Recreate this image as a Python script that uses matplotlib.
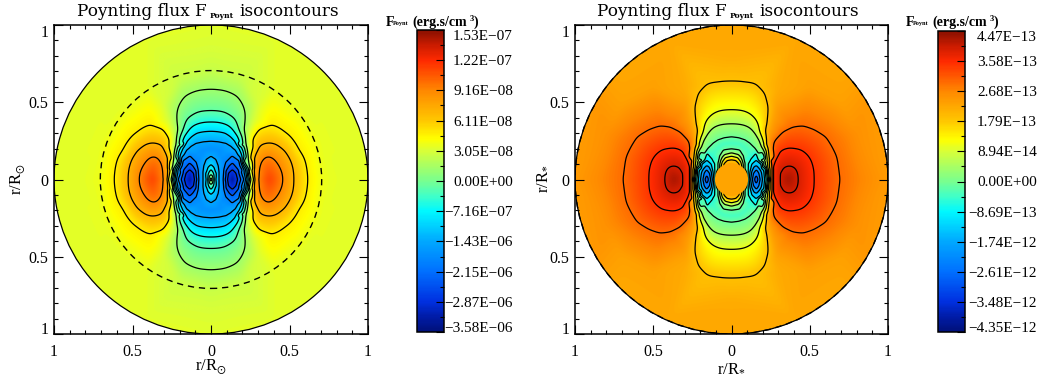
import numpy as np
import matplotlib
matplotlib.use('Agg')
import matplotlib.pyplot as plt
from matplotlib.colors import LinearSegmentedColormap
from matplotlib.patches import Circle
from matplotlib.ticker import MultipleLocator
from matplotlib.tri import Triangulation, LinearTriInterpolator

plt.rcParams['font.family'] = ['Liberation Serif', 'DejaVu Serif']
plt.rcParams['mathtext.fontset'] = 'custom'
plt.rcParams['mathtext.rm'] = 'Liberation Serif'
plt.rcParams['mathtext.bf'] = 'Liberation Serif:bold'
plt.rcParams['mathtext.fallback'] = 'stix'

W, H = 1043, 379

# colorbar tick labels, bottom to top (the scale is not linear across zero)
labels_left = ['\u22123.58E\u221206', '\u22122.87E\u221206', '\u22122.15E\u221206', '\u22121.43E\u221206',
               '\u22127.16E\u221207', '0.00E+00', '3.05E\u221208', '6.11E\u221208', '9.16E\u221208',
               '1.22E\u221207', '1.53E\u221207']
labels_right = ['\u22124.35E\u221212', '\u22123.48E\u221212', '\u22122.61E\u221212', '\u22121.74E\u221212',
                '\u22128.69E\u221213', '0.00E+00', '8.94E\u221214', '1.79E\u221213', '2.68E\u221213',
                '3.58E\u221213', '4.47E\u221213']

# field read off the picture as points (x, y) on each isocontour, first quadrant only
# field values are colorbar tick positions: 0 = bottom tick, 10 = top tick
l_12 = [(.104, 0), (.11, .04), (.136, .065), (.16, .04), (.17, 0)]
l_18 = [(.09, 0), (.095, .055), (.136, .107), (.175, .06), (.19, 0)]
l_24 = [(.079, 0), (.083, .06), (.095, .11), (.136, .152), (.18, .12), (.2, .06), (.21, 0)]
l_30 = [(0, .248), (.05, .244), (.1, .233), (.13, .215), (.153, .194), (.172, .16), (.189, .119), (.212, .043), (.22, 0),
        (.05, 0), (.05, .05), (.045, .09), (.03, .13), (0, .15)]
l_36 = [(0, .313), (.045, .31), (.089, .302), (.125, .277), (.153, .248), (.177, .205), (.195, .162), (.221, .065), (.23, 0),
        (.03, 0), (.028, .05), (.018, .08), (0, .097)]
l_42 = [(0, .371), (.04, .37), (.079, .362), (.115, .347), (.142, .324), (.165, .29), (.185, .248), (.21, .151),
        (.232, .05), (.238, 0), (.02, 0), (.017, .035), (0, .066)]
l_48 = [(0, .442), (.045, .44), (.089, .431), (.125, .41), (.153, .388), (.165, .36), (.174, .324), (.185, .227),
        (.21, .119), (.235, .05), (.245, 0), (.014, 0), (.01, .025), (0, .041)]
l_54 = [(0, .583), (.045, .58), (.089, .574), (.125, .56), (.163, .54), (.19, .51), (.206, .477), (.219, .41), (.215, .36),
        (.21, .319), (.225, .22), (.24, .14), (.25, .07), (.255, 0), (.008, 0), (.005, .01), (0, .017)]
l_66 = [(.272, 0), (.26, .06), (.25, .14), (.257, .248), (.293, .313), (.32, .335), (.378, .35), (.43, .33), (.495, .28),
        (.53, .235), (.558, .183), (.585, .14), (.6, .097), (.608, .05), (.611, 0)]
l_73 = [(.278, 0), (.275, .07), (.272, .14), (.304, .216), (.34, .232), (.378, .237), (.42, .225), (.473, .183),
        (.5, .14), (.516, .097), (.525, .05), (.527, 0)]
l_80 = [(.30, 0), (.304, .075), (.315, .115), (.335, .14), (.355, .15), (.378, .151), (.41, .125), (.442, .075), (.455, .04), (.459, 0)]
# extrema, valleys and background of the left panel: x, y, value
extra_left = [(0, 0, 5.8), (.136, 0, .4), (.136, .03, .7), (.37, 0, 8.8), (.37, .07, 8.5),
              (0, .2, 2.6), (.05, .19, 2.6), (.09, .17, 2.7), (.065, 0, 2.7), (.065, .08, 2.7), (.06, .15, 2.65),
              (.262, 0, 6.0), (.245, .14, 6.0), (.24, .22, 5.9), (.235, .3, 5.9), (.27, .38, 6.0), (.3, .5, 6.0),
              (.72, 0, 6.2), (.85, 0, 6.1), (1, 0, 6.1), (.7, .25, 6.15), (.6, .45, 6.1), (.4, .6, 6.1),
              (.2, .66, 5.85), (0, .72, 5.85), (0, .85, 6.0), (0, 1, 6.1), (.4, .9, 6.1), (.7, .7, 6.1), (1, 1, 6.1)]
dashed_left = 0.705

r_19 = [(.148, 0), (.159, .03), (.168, 0)]
r_25 = [(.133, 0), (.14, .04), (.159, .065), (.175, .04), (.183, 0)]
r_31 = [(.122, 0), (.128, .05), (.159, .09), (.185, .06), (.198, 0)]
r_37 = [(.113, 0), (.118, .05), (.13, .10), (.159, .126), (.19, .1), (.208, .05), (.212, 0)]
r_43 = [(.104, 0), (.107, .05), (.125, .13), (.159, .17), (.2, .14), (.218, .07), (.222, 0)]
r_49 = [(0, .276), (.045, .27), (.089, .255), (.118, .235), (.142, .211), (.168, .17), (.185, .125), (.205, .09), (.224, .05), (.23, 0),
        (0, .197), (.05, .19), (.075, .15), (.085, .105), (.085, .068)]
r_55 = [(0, .362), (.045, .36), (.089, .352), (.125, .335), (.153, .309), (.178, .262), (.195, .211), (.223, .082), (.238, 0),
        (0, .172), (.045, .16), (.068, .125), (.075, .08)]
r_62 = [(0, .449), (.045, .447), (.089, .438), (.125, .42), (.153, .395), (.168, .365), (.178, .33), (.21, .233), (.227, .125), (.246, 0),
        (0, .15), (.04, .14), (.058, .115), (.065, .085)]
r_71 = [(0, .632), (.06, .63), (.121, .621), (.165, .6), (.195, .578), (.22, .53), (.234, .481), (.237, .44), (.231, .395), (.212, .309),
        (.219, .233), (.242, .125), (.25, 0), (0, .13), (.03, .125), (.05, .105), (.055, .09)]
r_83 = [(.69, 0), (.68, .08), (.67, .147), (.64, .21), (.6, .276), (.53, .32), (.452, .347), (.39, .34), (.325, .309), (.29, .275),
        (.257, .222), (.25, .125), (.258, 0)]
r_89 = [(.527, 0), (.525, .06), (.51, .12), (.485, .16), (.45, .19), (.41, .2), (.357, .205), (.315, .19), (.29, .16), (.275, .12), (.265, .08), (.265, 0)]
r_94 = [(.425, 0), (.422, .04), (.41, .071), (.385, .09), (.357, .099), (.33, .095), (.314, .082), (.31, .045), (.31, 0)]
extra_right = [(0, 0, 7.5), (.05, .05, 7.5), (0, .09, 7.5), (.159, 0, 1.3), (.365, 0, 9.8),
               (0, .235, 4.55), (.05, .23, 4.55), (.1, .19, 4.55), (.09, .13, 4.5), (.12, .16, 4.45),
               (.24, .22, 7.7), (.23, .3, 7.5), (.26, .38, 7.6), (.28, .5, 7.55),
               (.85, 0, 7.95), (1, 0, 7.7), (.8, .3, 7.85), (.7, .5, 7.6), (.5, .6, 7.6), (.3, .6, 7.45),
               (0, .8, 7.45), (0, 1, 7.5), (.4, .9, 7.5), (.7, .7, 7.5), (1, 1, 7.5)]
hole_right = 0.106
hole_level = 7.55
dashed_right = 1.0

iso_left = [(1.2, l_12), (1.8, l_18), (2.4, l_24), (3.0, l_30), (3.6, l_36), (4.2, l_42), (4.8, l_48),
            (5.4, l_54), (6.6, l_66), (7.3, l_73), (8.0, l_80)]
iso_right = [(1.9, r_19), (2.5, r_25), (3.1, r_31), (3.7, r_37), (4.3, r_43), (4.9, r_49), (5.5, r_55),
             (6.2, r_62), (7.1, r_71), (8.3, r_83), (8.9, r_89), (9.4, r_94)]

cmap = LinearSegmentedColormap.from_list('idl', [
    (0.00, '#00107a'), (0.05, '#001ca8'), (0.10, '#0030e0'), (0.20, '#0070ff'),
    (0.30, '#00a8ff'), (0.40, '#00f8ff'), (0.45, '#40ffc8'), (0.50, '#78ff90'),
    (0.60, '#d8ff38'), (0.64, '#ffff00'), (0.70, '#ffc800'), (0.80, '#ff8800'),
    (0.90, '#ff2a00'), (0.95, '#cc1c00'), (1.00, '#8a1000')])


def px_axes(left, top, right, bottom):
    return fig.add_axes([left / W, 1 - bottom / H, (right - left) / W, (bottom - top) / H])


def soften(z, n):
    # small box filter, takes the corners off the triangles
    kernel = np.ones(2 * n + 1) / (2 * n + 1)
    for _ in range(2):
        for axis in (0, 1):
            z = np.apply_along_axis(lambda v: np.convolve(np.pad(v, n, mode='edge'), kernel, mode='valid'), axis, z)
    return z


def smooth_field(iso, extra):
    # mirror the quadrant points to the whole disc and let matplotlib interpolate them
    pts = {}
    rows = [(x, y, lev) for lev, line in iso for x, y in line] + extra
    for x, y, z in rows:
        for sx in (-1, 1):
            for sy in (-1, 1):
                pts[(round(sx * x, 4), round(sy * y, 4))] = z
    xy = np.array(list(pts.keys()))
    z = np.array(list(pts.values()))
    tri = Triangulation(xy[:, 0], xy[:, 1])
    interp = LinearTriInterpolator(tri, z)
    xi = np.linspace(-1, 1, 901)
    xg, yg = np.meshgrid(xi, xi)
    zi = np.ma.filled(interp(xg, yg), z[-1])
    # the packed lines near the centre keep their spacing, the wide ones get rounder
    w = np.clip((np.hypot(xg / .28, yg / .27) - 1) / .25, 0, 1)
    return xi, w * soften(zi, 9) + (1 - w) * soften(zi, 2)


def draw_panel(box, iso, extra, dashed, ylab, xlab):
    ax = px_axes(*box)
    xi, zi = smooth_field(iso, extra)
    im = ax.imshow(zi, extent=[-1, 1, -1, 1], origin='lower', cmap=cmap, vmin=0, vmax=10, aspect='auto')
    disc = Circle((0, 0), 1, transform=ax.transData)
    im.set_clip_path(disc)
    cs = ax.contour(xi, xi, zi, levels=[lev for lev, line in iso], colors='k', linewidths=0.9)
    cs.set_clip_path(disc)
    ax.add_patch(Circle((0, 0), 1, fill=False, ec='k', lw=0.9, zorder=5))
    ax.add_patch(Circle((0, 0), dashed, fill=False, ec='k', lw=1.0, ls=(0, (4.5, 3.5)), zorder=5))
    ax.set_xlim(-1, 1)
    ax.set_ylim(-1, 1)
    ax.set_xticks([-1, -.5, 0, .5, 1], ['1', '0.5', '0', '0.5', '1'])
    ax.set_yticks([-1, -.5, 0, .5, 1], ['1', '0.5', '0', '0.5', '1'])
    ax.xaxis.set_minor_locator(MultipleLocator(.1))
    ax.yaxis.set_minor_locator(MultipleLocator(.1))
    ax.tick_params(which='both', direction='in', top=True, right=True, width=0.8, labelsize=11.5)
    ax.tick_params(which='major', length=6.5)
    ax.tick_params(which='minor', length=3)
    ax.tick_params(axis='x', pad=7)
    ax.tick_params(axis='y', pad=4)
    ylabels = ax.get_yticklabels()
    ylabels[0].set_va('baseline')
    ylabels[-1].set_va('top')
    for s in ax.spines.values():
        s.set_linewidth(1.1)
    fig.text(xlab[0] / W, 1 - xlab[1] / H, xlab[2], fontsize=12, ha='center', va='center')
    fig.text(ylab[0] / W, 1 - ylab[1] / H, ylab[2], fontsize=12, ha='center', va='center', rotation=90)
    return ax, im


def draw_bar(box, im, labels, text_right, title_left):
    cax = px_axes(*box)
    cb = fig.colorbar(im, cax=cax, ticks=np.arange(0, 11))
    cb.set_ticklabels(labels)
    cb.ax.yaxis.set_ticks(np.arange(.5, 10, 1), minor=True)
    pad = (text_right - box[2]) * 0.72
    cb.ax.tick_params(which='major', direction='in', length=6, width=0.8, labelsize=11, pad=pad)
    cb.ax.tick_params(which='minor', direction='in', length=3, width=0.8)
    ticks = cb.ax.get_yticklabels()
    for t in ticks:
        t.set_ha('right')
    ticks[0].set_va('baseline')
    ticks[-1].set_va('top')
    cb.outline.set_linewidth(1.1)
    y = 1 - 22 / H
    fig.text(title_left / W, y, 'F', fontsize=10, fontweight='bold', va='center')
    fig.text((title_left + 7) / W, y - 2 / H, 'Poynt', fontsize=4.5, fontweight='bold', va='center')
    fig.text((title_left + 26) / W, y, '(erg.s/cm', fontsize=10, fontweight='bold', va='center')
    fig.text((title_left + 84) / W, y + 3 / H, '3', fontsize=6, fontweight='bold', va='center')
    fig.text((title_left + 88) / W, y, ')', fontsize=10, fontweight='bold', va='center')


def draw_title(left):
    y = 1 - 12 / H
    fig.text(left / W, y, 'Poynting flux F', family='DejaVu Serif', fontsize=12.2, va='center')
    fig.text((left + 133) / W, y - 4 / H, 'Poynt', family='DejaVu Serif', fontsize=5.5, fontweight='bold', va='center')
    fig.text((left + 162) / W, y, 'isocontours', family='DejaVu Serif', fontsize=12.2, va='center')


fig = plt.figure(figsize=(W / 100, H / 100), dpi=100)

ax1, im1 = draw_panel((54, 25, 368, 334), iso_left, extra_left, dashed_left,
                      (18, 179, r'r/R$_{\odot}$'), (211, 367, r'r/R$_{\odot}$'))
ax2, im2 = draw_panel((575, 25, 888, 334), iso_right, extra_right, dashed_right,
                      (541, 179, r'r/R$_{*}$'), (731, 367, r'r/R$_{*}$'))
ax2.add_patch(Circle((0, 0), hole_right, fc=cmap(hole_level / 10), ec='none', zorder=4))

draw_title(77)
draw_title(597)

draw_bar((417, 30, 444, 332), im1, labels_left, 513, 386)
draw_bar((938, 31, 965, 332), im2, labels_right, 1037, 906)

fig.savefig('out.png', dpi=100)
